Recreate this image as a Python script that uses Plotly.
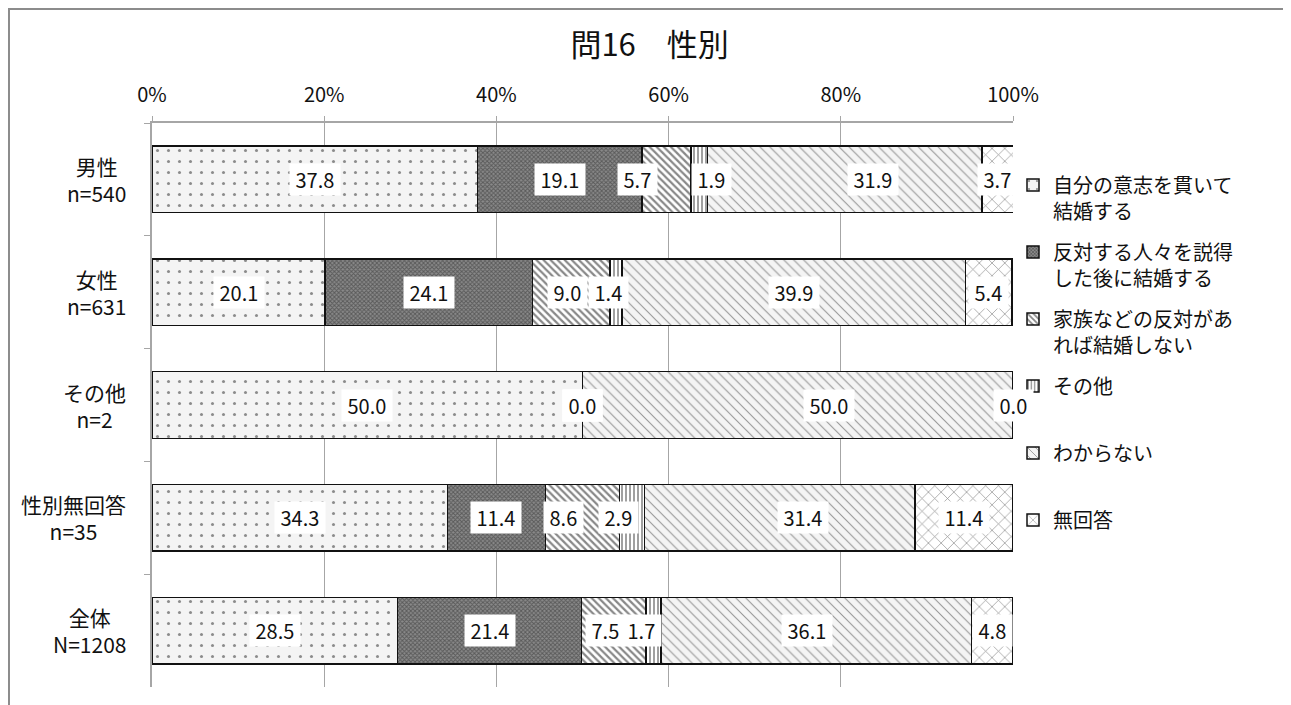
import plotly.graph_objects as go

# categories (top to bottom) and their sample sizes
categories = ["男性", "女性", "その他", "性別無回答", "全体"]
sample_sizes = ["n=540", "n=631", "n=2", "n=35", "N=1208"]

series_names = [
    "自分の意志を貫いて<br>結婚する",
    "反対する人々を説得<br>した後に結婚する",
    "家族などの反対があ<br>れば結婚しない",
    "その他<br> ",
    "わからない<br> ",
    "無回答<br> ",
]

jibun = [37.8, 20.1, 50.0, 34.3, 28.5]
settoku = [19.1, 24.1, 0.0, 11.4, 21.4]
kazoku = [5.7, 9.0, 0.0, 8.6, 7.5]
sonota = [1.9, 1.4, 0.0, 2.9, 1.7]
wakaranai = [31.9, 39.9, 50.0, 31.4, 36.1]
mukaitou = [3.7, 5.4, 0.0, 11.4, 4.8]

values = [jibun, settoku, kazoku, sonota, wakaranai, mukaitou]

x_ticks = [0, 20, 40, 60, 80, 100]
x_ticktext = ["0%", "20%", "40%", "60%", "80%", "100%"]

# hand nudges of data labels (px), as in the original report
label_shift = [
    [0, 0, -29, 12, 28, 0],
    [0, 0, -4, -8, 0, 0],
    [0, 0, 0, 0, 31, 0],
    [0, 0, -19, -14, 23, 0],
    [0, 0, -8, -12, -9, 0],
]

patterns = [
    dict(shape=".", size=11, solidity=0.06, fgcolor="#222222", bgcolor="#f4f4f4"),
    dict(shape="x", size=3, solidity=0.55, fgcolor="#2a2a2a", bgcolor="#8a8a8a"),
    dict(shape="\\", size=5, solidity=0.45, fgcolor="#111111", bgcolor="white"),
    dict(shape="|", size=4, solidity=0.4, fgcolor="#111111", bgcolor="white"),
    dict(shape="\\", size=7, solidity=0.16, fgcolor="#3a3a3a", bgcolor="#f4f4f4"),
    dict(shape="x", size=9, solidity=0.15, fgcolor="#222222", bgcolor="white"),
]

FONT = "Noto Sans CJK JP"

fig = go.Figure()
for i, (name, vals) in enumerate(zip(series_names, values)):
    fig.add_trace(go.Bar(
        y=categories, x=vals, name=name, orientation="h",
        legendgroup=f"g{i}",
        marker=dict(color="white", pattern=patterns[i],
                    line=dict(color="#111111", width=1.5)),
        hoverinfo="x+name",
    ))

# data labels with white boxes
annotations = []
for r, cat in enumerate(categories):
    start = 0.0
    for s in range(len(values)):
        v = values[s][r]
        annotations.append(dict(
            x=start + v / 2, y=cat, xref="x", yref="y",
            text=f" {v:.1f} ", showarrow=False,
            xshift=label_shift[r][s],
            bgcolor="white", borderpad=1,
            font=dict(family=FONT, size=20, color="#111111"),
        ))
        start += v

# category labels: centred lines, block anchored right of the axis
for cat, n in zip(categories, sample_sizes):
    annotations.append(dict(
        x=-0.028, y=cat, xref="paper", yref="y",
        text=f"{cat}<br>{n}", showarrow=False, align="center",
        xanchor="right", yanchor="middle",
        font=dict(family=FONT, size=21, color="#111111"),
    ))

fig.update_layout(
    width=1291, height=705,
    barmode="stack", bargap=0.41,
    plot_bgcolor="white", paper_bgcolor="white",
    margin=dict(l=144, r=286, t=115, b=26),
    title=dict(text="問16　性別", x=0.497, xref="container", xanchor="center",
               y=0.9475, yref="container", yanchor="middle",
               font=dict(family=FONT, size=31, color="#111111")),
    font=dict(family=FONT, color="#111111"),
    xaxis=dict(
        side="top", range=[0, 100], tickvals=x_ticks, ticktext=x_ticktext,
        showgrid=True, gridcolor="#a6a6a6", gridwidth=1,
        showline=True, linecolor="#a6a6a6", linewidth=1.5,
        ticks="outside", ticklen=5, tickcolor="#a6a6a6",
        ticklabelstandoff=6,
        tickfont=dict(family=FONT, size=20, color="#111111"),
        zeroline=False, fixedrange=True,
    ),
    yaxis=dict(
        autorange="reversed", showticklabels=False,
        showline=True, linecolor="#a6a6a6", linewidth=1.5,
        ticks="outside", tickson="boundaries", ticklen=6, tickcolor="#a6a6a6",
        showgrid=False, fixedrange=True,
    ),
    legend=dict(
        x=1.0, y=0.9246, xanchor="left", yanchor="top",
        traceorder="grouped", valign="top", tracegroupgap=12,
        font=dict(family=FONT, size=20, color="#111111"),
        itemwidth=30,
    ),
    annotations=annotations,
    shapes=[dict(type="rect", xref="paper", yref="paper",
                 x0=-0.1661, x1=1.3206, y0=-0.1, y1=1.2021,
                 line=dict(color="#8c8c8c", width=2), layer="below")],
)

fig.write_html("out.html")
